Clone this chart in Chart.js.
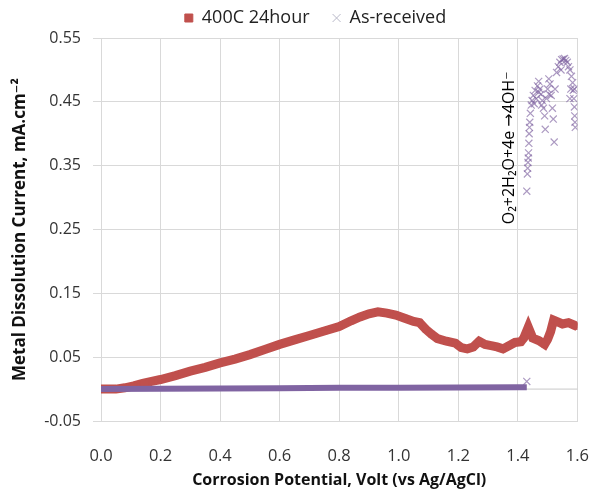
<!DOCTYPE html>
<html>
<head>
<meta charset="utf-8">
<script src="https://cdn.jsdelivr.net/npm/chart.js@4"></script>
<style>
    body { margin: 0; background: #fff; }
    #box { width: 595px; height: 492px; }
</style>
</head>
<body>
<div id="box"><canvas id="chart01"></canvas></div>
<script>
// 400C 24hour (red squares)
const heatX = [0.00, 0.05, 0.08, 0.11, 0.14, 0.17, 0.20, 0.25, 0.30, 0.35, 0.40, 0.45, 0.50, 0.55, 0.60, 0.65, 0.70, 0.75, 0.80, 0.84, 0.87,
    0.90, 0.93, 0.96, 0.99, 1.02, 1.05, 1.07, 1.09, 1.11, 1.13, 1.16, 1.19, 1.21, 1.23, 1.25, 1.27, 1.29, 1.31, 1.33, 1.35,
    1.37, 1.39, 1.41, 1.42, 1.435, 1.45, 1.47, 1.49, 1.50, 1.51, 1.52, 1.53, 1.55, 1.57, 1.59, 1.60];
const heatY = [0.000, 0.000, 0.002, 0.005, 0.009, 0.012, 0.015, 0.021, 0.028, 0.034, 0.041, 0.047, 0.054, 0.062, 0.070, 0.077, 0.084, 0.091, 0.098, 0.107, 0.113,
    0.118, 0.121, 0.119, 0.116, 0.111, 0.106, 0.104, 0.094, 0.086, 0.079, 0.075, 0.072, 0.065, 0.063, 0.066, 0.075, 0.070, 0.068, 0.066, 0.063,
    0.068, 0.073, 0.074, 0.080, 0.097, 0.080, 0.076, 0.070, 0.078, 0.090, 0.108, 0.106, 0.102, 0.104, 0.100, 0.098];

// As-received, flat part along zero
const baseX = [0.00, 0.20, 0.40, 0.60, 0.80, 1.00, 1.20, 1.40, 1.43];
const baseY = [0.000, 0.0005, 0.001, 0.0015, 0.002, 0.002, 0.0025, 0.003, 0.003];

// As-received, cluster after 1.43 V
const recvX = [1.430, 1.430, 1.432, 1.433, 1.434, 1.435, 1.436, 1.437, 1.438, 1.439, 1.440, 1.442, 1.445, 1.448, 1.452, 1.455, 1.458, 1.462, 1.466, 1.470,
    1.474, 1.478, 1.482, 1.486, 1.490, 1.492, 1.496, 1.500, 1.504, 1.508, 1.512, 1.516, 1.519, 1.522, 1.525, 1.530, 1.536, 1.541, 1.547, 1.552,
    1.557, 1.561, 1.566, 1.570, 1.575, 1.580, 1.584, 1.586, 1.588, 1.590, 1.591, 1.592, 1.593, 1.590, 1.578, 1.575, 1.470, 1.480, 1.505, 1.545];
const recvY = [0.012, 0.310, 0.337, 0.346, 0.355, 0.362, 0.370, 0.385, 0.400, 0.410, 0.418, 0.432, 0.445, 0.452, 0.460, 0.447, 0.468, 0.455, 0.475, 0.482,
    0.470, 0.462, 0.452, 0.440, 0.428, 0.407, 0.455, 0.470, 0.486, 0.478, 0.460, 0.440, 0.423, 0.387, 0.470, 0.496, 0.505, 0.512, 0.516, 0.517,
    0.518, 0.515, 0.512, 0.505, 0.500, 0.490, 0.480, 0.468, 0.455, 0.442, 0.428, 0.418, 0.410, 0.470, 0.470, 0.455, 0.465, 0.445, 0.462, 0.500];

const xTicks = [0.0, 0.2, 0.4, 0.6, 0.8, 1.0, 1.2, 1.4, 1.6];
const yTicks = [-0.05, 0.05, 0.15, 0.25, 0.35, 0.45, 0.55];

const RED = '#C0504D';
const PURPLE = '#8064A2';
const FONT = "'Open Sans', 'DejaVu Sans', sans-serif";

function toPoints(xs, ys) {
    return xs.map((x, i) => ({ x: x, y: ys[i] }));
}

// zero line, rotated reaction label, legend nudging
const extras = {
    id: 'extras',
    afterInit(chart) {
        const lg = chart.legend;
        const fit = lg.fit;
        lg.fit = function () {
            fit.call(this);
            this.height += 1;
        };
    },
    beforeDraw(chart) {
        // legend in the original sits a bit right of the canvas centre
        const lg = chart.legend;
        if (!lg._shifted) {
            lg.left += 16;
            lg.right += 16;
            lg._shifted = true;
        }
    },
    beforeDatasetsDraw(chart) {
        const { ctx, chartArea, scales } = chart;
        const y0 = scales.y.getPixelForValue(0);
        ctx.save();
        ctx.strokeStyle = '#c8c8c8';
        ctx.lineWidth = 1;
        ctx.beginPath();
        ctx.moveTo(chartArea.left, y0);
        ctx.lineTo(chartArea.right, y0);
        ctx.stroke();
        ctx.restore();
    },
    afterDatasetsDraw(chart) {
        const { ctx, scales } = chart;
        const px = scales.x.getPixelForValue(1.373);
        const py = scales.y.getPixelForValue(0.378);
        ctx.save();
        ctx.translate(px, py);
        ctx.rotate(-Math.PI / 2);
        ctx.fillStyle = '#000';
        ctx.font = "16px " + FONT;
        ctx.textAlign = 'center';
        ctx.textBaseline = 'middle';
        ctx.fillText('O\u2082+2H\u2082O+4e \u21924OH\u207B', 0, 0);
        ctx.restore();
    }
};

const ctx01 = document.getElementById('chart01');
new Chart(ctx01, {
    type: 'scatter',
    data: {
        datasets: [
            {
                label: '400C 24hour',
                data: toPoints(heatX, heatY),
                showLine: true,
                borderColor: RED,
                backgroundColor: RED,
                borderWidth: 9,
                pointStyle: 'rect',
                pointRadius: 4,
                pointBorderWidth: 1,
                order: 2
            },
            {
                label: 'As-received',
                data: toPoints(recvX, recvY),
                borderColor: 'rgba(128,100,162,0.65)',
                backgroundColor: 'rgba(128,100,162,0.65)',
                pointStyle: 'crossRot',
                pointRadius: 5,
                pointBorderWidth: 1.2,
                order: 1
            },
            {
                label: 'base',
                data: toPoints(baseX, baseY),
                showLine: true,
                borderColor: PURPLE,
                backgroundColor: PURPLE,
                borderWidth: 6,
                pointRadius: 0,
                order: 0
            }
        ]
    },
    options: {
        responsive: true,
        maintainAspectRatio: false,
        animation: false,
        layout: { padding: { left: 6, right: 2, top: 0, bottom: 2 } },
        plugins: {
            tooltip: { enabled: false },
            legend: {
                position: 'top',
                labels: {
                    font: { family: FONT, size: 18 },
                    color: '#222',
                    usePointStyle: true,
                    boxWidth: 8,
                    boxHeight: 8,
                    padding: 9,
                    sort: (a, b) => a.datasetIndex - b.datasetIndex,
                    filter: (item) => item.text !== 'base',
                    generateLabels(chart) {
                        const items = Chart.defaults.plugins.legend.labels.generateLabels(chart);
                        items.forEach(it => {
                            if (it.text === '400C 24hour') {
                                it.pointStyle = 'rect';
                                it.fillStyle = RED;
                                it.strokeStyle = RED;
                                it.text = '400C 24hour   ';
                            } else if (it.text === 'As-received') {
                                it.pointStyle = 'crossRot';
                                it.strokeStyle = '#b8b8c8';
                                it.lineWidth = 1;
                            }
                        });
                        return items;
                    }
                }
            }
        },
        scales: {
            x: {
                type: 'linear',
                min: 0,
                max: 1.6,
                afterBuildTicks: (axis) => { axis.ticks = xTicks.map(v => ({ value: v })); },
                afterFit: (axis) => { axis.height = 69; },
                ticks: {
                    callback: (v) => Number(v).toFixed(1),
                    font: { family: FONT, size: 16.5 },
                    color: '#333',
                    padding: 6
                },
                grid: { color: '#d9d9d9', tickLength: 19, tickColor: 'rgba(0,0,0,0)' },
                border: { color: '#d9d9d9' },
                title: {
                    display: true,
                    text: 'Corrosion Potential, Volt (vs Ag/AgCl)',
                    font: { family: FONT, size: 16, weight: 'bold' },
                    color: '#111',
                    padding: { top: 0, bottom: 0 }
                }
            },
            y: {
                type: 'linear',
                min: -0.05,
                max: 0.55,
                afterBuildTicks: (axis) => { axis.ticks = yTicks.map(v => ({ value: v })); },
                afterFit: (axis) => { axis.width = 95; },
                ticks: {
                    callback: (v) => Number(v).toFixed(2),
                    font: { family: FONT, size: 16 },
                    color: '#333',
                    padding: 12
                },
                grid: { color: '#d9d9d9', tickLength: 8 },
                border: { color: '#d9d9d9' },
                title: {
                    display: true,
                    text: 'Metal Dissolution Current, mA.cm\u207B\u00B2',
                    font: { family: FONT, size: 17, weight: 'bold' },
                    color: '#111',
                    padding: { bottom: 6 }
                }
            }
        }
    },
    plugins: [extras]
});
</script>
</body>
</html>
